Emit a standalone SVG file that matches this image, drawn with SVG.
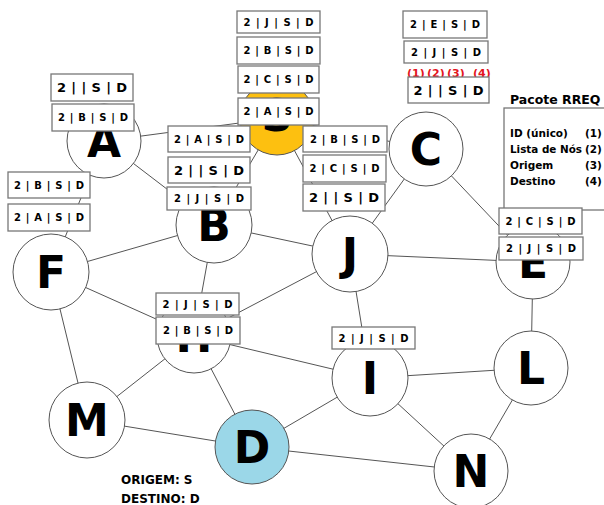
<svg xmlns="http://www.w3.org/2000/svg" width="604" height="505" viewBox="0 0 604 505">
<style>
.e{stroke:#555;stroke-width:1;fill:none}
.n{stroke:#555;stroke-width:1;fill:#fff}
.lt{font-family:"DejaVu Sans","Liberation Sans",sans-serif;font-weight:bold;font-size:44px;fill:#000;text-anchor:middle}
.pb{fill:#fff;stroke:#777;stroke-width:1.3}
.ps{font-family:"DejaVu Sans","Liberation Sans",sans-serif;font-weight:bold;font-size:10px;fill:#000;text-anchor:middle}
.pl{font-family:"DejaVu Sans","Liberation Sans",sans-serif;font-weight:bold;font-size:13px;fill:#000;text-anchor:middle}
.tx{font-family:"DejaVu Sans","Liberation Sans",sans-serif;font-weight:bold;font-size:10.5px;fill:#000}
.rd{font-family:"DejaVu Sans","Liberation Sans",sans-serif;font-weight:bold;font-size:11px;fill:#e3141e}
</style>
<rect width="604" height="505" fill="#fff"/>
<g id="connectors">
<line class="e" x1="104" y1="141" x2="277" y2="118"/>
<line class="e" x1="104" y1="141" x2="214" y2="225"/>
<line class="e" x1="104" y1="141" x2="51" y2="272"/>
<line class="e" x1="51" y1="272" x2="214" y2="225"/>
<line class="e" x1="51" y1="272" x2="194" y2="336"/>
<line class="e" x1="51" y1="272" x2="87" y2="420"/>
<line class="e" x1="87" y1="420" x2="194" y2="336"/>
<line class="e" x1="87" y1="420" x2="252" y2="447"/>
<line class="e" x1="194" y1="336" x2="252" y2="447"/>
<line class="e" x1="194" y1="336" x2="214" y2="225"/>
<line class="e" x1="194" y1="336" x2="350" y2="254"/>
<line class="e" x1="194" y1="336" x2="370" y2="378"/>
<line class="e" x1="214" y1="225" x2="350" y2="254"/>
<line class="e" x1="277" y1="118" x2="214" y2="225"/>
<line class="e" x1="277" y1="118" x2="350" y2="254"/>
<line class="e" x1="277" y1="118" x2="426" y2="149"/>
<line class="e" x1="350" y1="254" x2="426" y2="149"/>
<line class="e" x1="350" y1="254" x2="533" y2="262"/>
<line class="e" x1="426" y1="149" x2="533" y2="262"/>
<line class="e" x1="350" y1="254" x2="370" y2="378"/>
<line class="e" x1="533" y1="262" x2="531" y2="368"/>
<line class="e" x1="370" y1="378" x2="531" y2="368"/>
<line class="e" x1="370" y1="378" x2="471" y2="471"/>
<line class="e" x1="531" y1="368" x2="471" y2="471"/>
<line class="e" x1="252" y1="447" x2="471" y2="471"/>
<line class="e" x1="252" y1="447" x2="370" y2="378"/>
</g>
<g id="node-A"><circle class="n" cx="104" cy="141" r="37"/><text class="lt" x="104" y="157">A</text></g>
<g id="node-S"><circle class="n" cx="277" cy="118" r="37" style="fill:#fdc010"/><text class="lt" x="277" y="131">S</text></g>
<g id="node-C"><circle class="n" cx="426" cy="149" r="37"/><text class="lt" x="426" y="165">C</text></g>
<g id="node-B"><circle class="n" cx="214" cy="225" r="38"/><text class="lt" x="214" y="241">B</text></g>
<g id="node-J"><circle class="n" cx="350" cy="254" r="38"/><text class="lt" x="350" y="270">J</text></g>
<g id="node-F"><circle class="n" cx="51" cy="272" r="38"/><text class="lt" x="51" y="288">F</text></g>
<g id="node-E"><circle class="n" cx="533" cy="262" r="37"/><text class="lt" x="533" y="278">E</text></g>
<g id="node-H"><circle class="n" cx="194" cy="336" r="37"/><text class="lt" x="194" y="352">H</text></g>
<g id="node-I"><circle class="n" cx="370" cy="378" r="38"/><text class="lt" x="370" y="394">I</text></g>
<g id="node-L"><circle class="n" cx="531" cy="368" r="37"/><text class="lt" x="531" y="384">L</text></g>
<g id="node-N"><circle class="n" cx="471" cy="471" r="37"/><text class="lt" x="471" y="487">N</text></g>
<g id="node-M"><circle class="n" cx="87" cy="420" r="38"/><text class="lt" x="87" y="436">M</text></g>
<g id="node-D"><circle class="n" cx="252" cy="447" r="37" style="fill:#9bd7e8"/><text class="lt" x="252" y="463">D</text></g>
<g id="legend">
<rect x="504" y="108" width="120" height="102" fill="#fff" stroke="#777" stroke-width="1.3"/>
<text class="tx" x="510" y="104" style="font-size:12.5px">Pacote RREQ</text>
<text class="tx" x="510" y="137">ID (único)</text><text class="tx" x="585" y="137">(1)</text>
<text class="tx" x="510" y="153" textLength="72" lengthAdjust="spacingAndGlyphs">Lista de Nós</text><text class="tx" x="585" y="153">(2)</text>
<text class="tx" x="510" y="169">Origem</text><text class="tx" x="585" y="169">(3)</text>
<text class="tx" x="510" y="185">Destino</text><text class="tx" x="585" y="185">(4)</text>
<text class="rd" x="407" y="77">(1)</text>
<text class="rd" x="427" y="77">(2)</text>
<text class="rd" x="447" y="77">(3)</text>
<text class="rd" x="473" y="77">(4)</text>
</g>
<g id="packets">
<g><rect class="pb" x="403" y="11" width="84" height="27"/><text class="ps" x="445" y="28" textLength="70" lengthAdjust="spacing">2 | E | S | D</text></g>
<g><rect class="pb" x="404" y="41" width="84" height="22"/><text class="ps" x="446" y="56" textLength="70" lengthAdjust="spacing">2 | J | S | D</text></g>
<g><rect class="pb" x="408" y="77" width="81" height="26"/><text class="pl" x="448.5" y="95" textLength="70" lengthAdjust="spacing">2 | | S | D</text></g>
<g><rect class="pb" x="237" y="11" width="83" height="22"/><text class="ps" x="278.5" y="26" textLength="70" lengthAdjust="spacing">2 | J | S | D</text></g>
<g><rect class="pb" x="237" y="37" width="83" height="27"/><text class="ps" x="278.5" y="54" textLength="70" lengthAdjust="spacing">2 | B | S | D</text></g>
<g><rect class="pb" x="238" y="66" width="81" height="27"/><text class="ps" x="278.5" y="83" textLength="70" lengthAdjust="spacing">2 | C | S | D</text></g>
<g><rect class="pb" x="238" y="98" width="81" height="27"/><text class="ps" x="278.5" y="115" textLength="70" lengthAdjust="spacing">2 | A | S | D</text></g>
<g><rect class="pb" x="168" y="126" width="82" height="26"/><text class="ps" x="209" y="143" textLength="70" lengthAdjust="spacing">2 | A | S | D</text></g>
<g><rect class="pb" x="168" y="157" width="82" height="26"/><text class="pl" x="209" y="175" textLength="70" lengthAdjust="spacing">2 | | S | D</text></g>
<g><rect class="pb" x="167" y="187" width="84" height="23"/><text class="ps" x="209" y="202" textLength="70" lengthAdjust="spacing">2 | J | S | D</text></g>
<g><rect class="pb" x="303" y="126" width="84" height="26"/><text class="ps" x="345" y="143" textLength="70" lengthAdjust="spacing">2 | B | S | D</text></g>
<g><rect class="pb" x="303" y="155" width="83" height="27"/><text class="ps" x="344.5" y="172" textLength="70" lengthAdjust="spacing">2 | C | S | D</text></g>
<g><rect class="pb" x="303" y="184" width="82" height="27"/><text class="pl" x="344" y="202" textLength="70" lengthAdjust="spacing">2 | | S | D</text></g>
<g><rect class="pb" x="51" y="74" width="82" height="27"/><text class="pl" x="92" y="92" textLength="70" lengthAdjust="spacing">2 | | S | D</text></g>
<g><rect class="pb" x="52" y="104" width="82" height="27"/><text class="ps" x="93" y="121" textLength="70" lengthAdjust="spacing">2 | B | S | D</text></g>
<g><rect class="pb" x="8" y="172" width="82" height="26"/><text class="ps" x="49" y="189" textLength="70" lengthAdjust="spacing">2 | B | S | D</text></g>
<g><rect class="pb" x="8" y="204" width="82" height="27"/><text class="ps" x="49" y="221" textLength="70" lengthAdjust="spacing">2 | A | S | D</text></g>
<g><rect class="pb" x="156" y="293" width="83" height="22"/><text class="ps" x="197.5" y="308" textLength="70" lengthAdjust="spacing">2 | J | S | D</text></g>
<g><rect class="pb" x="156" y="317" width="84" height="27"/><text class="ps" x="198" y="334" textLength="70" lengthAdjust="spacing">2 | B | S | D</text></g>
<g><rect class="pb" x="332" y="327" width="83" height="22"/><text class="ps" x="373.5" y="342" textLength="70" lengthAdjust="spacing">2 | J | S | D</text></g>
<g><rect class="pb" x="499" y="208" width="83" height="26"/><text class="ps" x="540.5" y="225" textLength="70" lengthAdjust="spacing">2 | C | S | D</text></g>
<g><rect class="pb" x="499" y="237" width="84" height="23"/><text class="ps" x="541" y="252" textLength="70" lengthAdjust="spacing">2 | J | S | D</text></g>
</g>
<g id="caption">
<text class="tx" x="121" y="484" style="font-size:12px">ORIGEM: S</text>
<text class="tx" x="121" y="503" style="font-size:12px">DESTINO: D</text>
</g>
</svg>
